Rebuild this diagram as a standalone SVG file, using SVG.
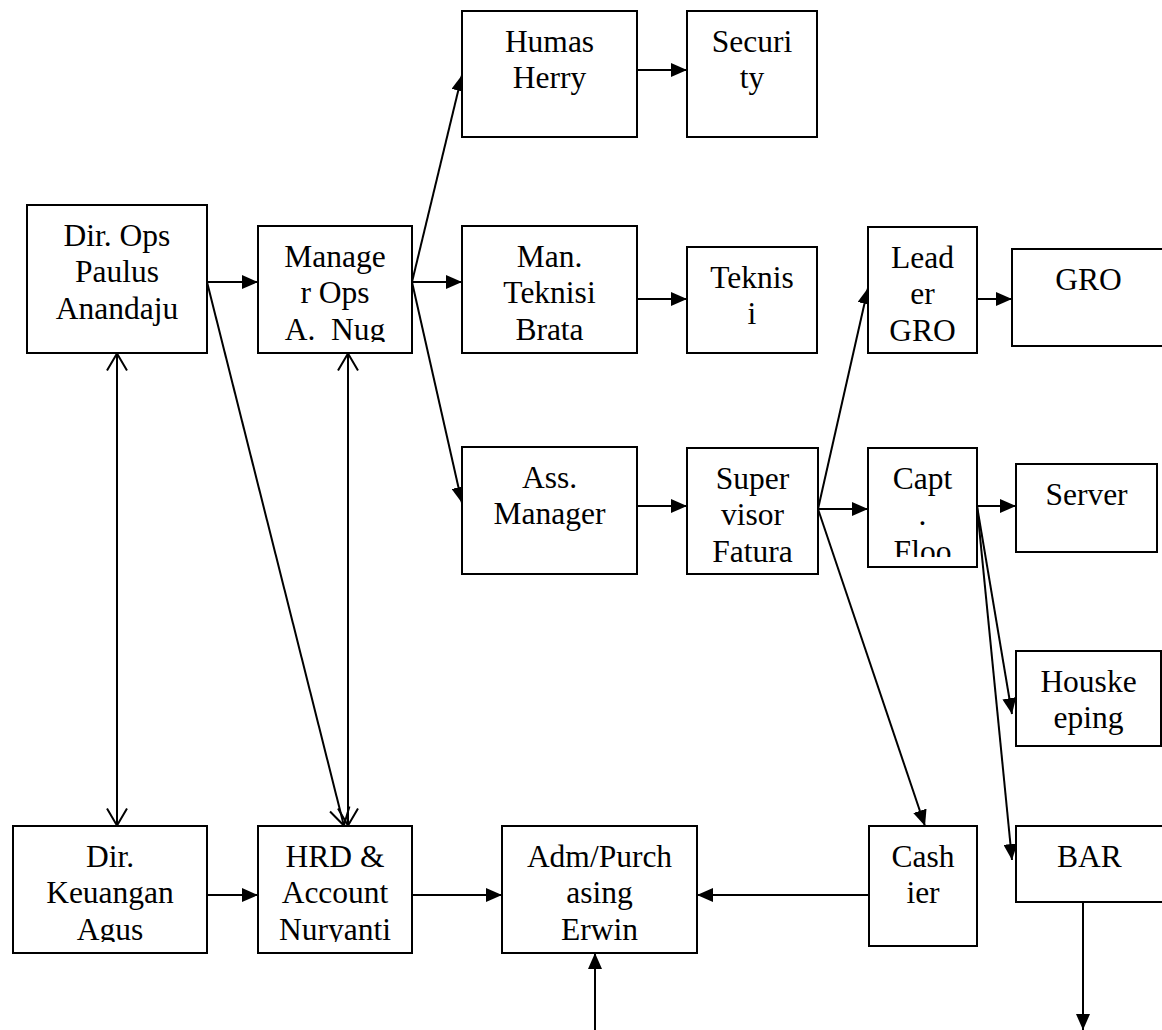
<svg xmlns="http://www.w3.org/2000/svg" width="1162" height="1030" viewBox="0 0 1162 1030">
<style>
.box{fill:#fff;stroke:#000;stroke-width:2}
.t{font-family:"Liberation Serif","Times New Roman",serif;font-size:31.5px;fill:#000;text-anchor:middle}
.c{stroke:#000;stroke-width:2;fill:none}
.f{marker-end:url(#ah)}
.d{marker-start:url(#oa);marker-end:url(#oa)}
.o{marker-end:url(#oa)}
</style>
<defs>
<marker id="ah" viewBox="0 0 16 14" refX="16" refY="7" markerWidth="16" markerHeight="14" orient="auto" markerUnits="userSpaceOnUse"><path d="M0,0 L16,7 L0,14 z" fill="#000"/></marker>
<marker id="oa" viewBox="0 0 20 24" refX="18.5" refY="12" markerWidth="20" markerHeight="24" orient="auto-start-reverse" markerUnits="userSpaceOnUse"><path d="M1,2 L18,12 L1,22" fill="none" stroke="#000" stroke-width="2"/></marker>
<clipPath id="cMgr"><rect x="258" y="226" width="154" height="116"/></clipPath>
<clipPath id="cCapt"><rect x="868" y="448" width="109" height="109"/></clipPath>
<clipPath id="cKeu"><rect x="13" y="826" width="194" height="116"/></clipPath>
<clipPath id="cHrd"><rect x="258" y="826" width="154" height="116"/></clipPath>
</defs>
<rect width="1162" height="1030" fill="#fff"/>

<g id="connectors">
<line class="c f" x1="207" y1="282" x2="258" y2="282"/>
<line class="c f" x1="412" y1="282" x2="462" y2="75"/>
<line class="c f" x1="412" y1="282" x2="462" y2="282"/>
<line class="c f" x1="412" y1="282" x2="462" y2="503"/>
<line class="c f" x1="637" y1="70" x2="687" y2="70"/>
<line class="c f" x1="637" y1="299" x2="687" y2="299"/>
<line class="c f" x1="637" y1="506" x2="687" y2="506"/>
<line class="c f" x1="818" y1="509" x2="868" y2="288"/>
<line class="c f" x1="818" y1="509" x2="868" y2="509"/>
<line class="c f" x1="818" y1="509" x2="925" y2="826"/>
<line class="c f" x1="977" y1="299" x2="1012" y2="299"/>
<line class="c f" x1="977" y1="506" x2="1016" y2="506"/>
<line class="c f" x1="977" y1="506" x2="1012" y2="714"/>
<line class="c f" x1="977" y1="506" x2="1012" y2="860"/>
<line class="c f" x1="1083" y1="902" x2="1083" y2="1030"/>
<line class="c f" x1="869" y1="895" x2="697" y2="895"/>
<line class="c f" x1="412" y1="895" x2="502" y2="895"/>
<line class="c f" x1="207" y1="895" x2="258" y2="895"/>
<line class="c f" x1="595" y1="1030" x2="595" y2="953"/>
<line class="c d" x1="117" y1="353" x2="117" y2="826"/>
<line class="c d" x1="348" y1="353" x2="348" y2="826"/>
<line class="c o" x1="207" y1="282" x2="344" y2="826"/>
</g>

<g id="n_dirops"><rect class="box" x="27" y="205" width="180" height="148"/>
<text class="t"><tspan x="117" y="245.5">Dir. Ops</tspan><tspan x="117" y="282.3">Paulus</tspan><tspan x="117" y="319.1">Anandaju</tspan></text></g>

<g id="n_mgrops"><rect class="box" x="258" y="226" width="154" height="127"/>
<text class="t" clip-path="url(#cMgr)" xml:space="preserve"><tspan x="335" y="266.5">Manage</tspan><tspan x="335" y="303.3">r Ops</tspan><tspan x="335" y="340.1">A.  Nug</tspan></text></g>

<g id="n_humas"><rect class="box" x="462" y="11" width="175" height="126"/>
<text class="t"><tspan x="549.5" y="51.5">Humas</tspan><tspan x="549.5" y="88.3">Herry</tspan></text></g>

<g id="n_security"><rect class="box" x="687" y="11" width="130" height="126"/>
<text class="t"><tspan x="752" y="51.5">Securi</tspan><tspan x="752" y="88.3">ty</tspan></text></g>

<g id="n_mantek"><rect class="box" x="462" y="226" width="175" height="127"/>
<text class="t"><tspan x="549.5" y="266.5">Man.</tspan><tspan x="549.5" y="303.3">Teknisi</tspan><tspan x="549.5" y="340.1">Brata</tspan></text></g>

<g id="n_teknisi"><rect class="box" x="687" y="247" width="130" height="106"/>
<text class="t"><tspan x="752" y="287.5">Teknis</tspan><tspan x="752" y="324.3">i</tspan></text></g>

<g id="n_leader"><rect class="box" x="868" y="227" width="109" height="126"/>
<text class="t"><tspan x="922.5" y="267.5">Lead</tspan><tspan x="922.5" y="304.3">er</tspan><tspan x="922.5" y="341.1">GRO</tspan></text></g>

<g id="n_gro"><rect class="box" x="1012" y="249" width="153" height="97"/>
<text class="t"><tspan x="1088.5" y="289.5">GRO</tspan></text></g>

<g id="n_ass"><rect class="box" x="462" y="447" width="175" height="127"/>
<text class="t"><tspan x="549.5" y="487.5">Ass.</tspan><tspan x="549.5" y="524.3">Manager</tspan></text></g>

<g id="n_super"><rect class="box" x="687" y="448" width="131" height="126"/>
<text class="t"><tspan x="752.5" y="488.5">Super</tspan><tspan x="752.5" y="525.3">visor</tspan><tspan x="752.5" y="562.1">Fatura</tspan></text></g>

<g id="n_capt"><rect class="box" x="868" y="448" width="109" height="119"/>
<text class="t" clip-path="url(#cCapt)"><tspan x="922.5" y="488.5">Capt</tspan><tspan x="922.5" y="525.3">.</tspan><tspan x="922.5" y="562.1">Floo</tspan></text></g>

<g id="n_server"><rect class="box" x="1016" y="464" width="141" height="88"/>
<text class="t"><tspan x="1086.5" y="504.5">Server</tspan></text></g>

<g id="n_house"><rect class="box" x="1016" y="651" width="145" height="95"/>
<text class="t"><tspan x="1088.5" y="691.5">Houske</tspan><tspan x="1088.5" y="728.3">eping</tspan></text></g>

<g id="n_bar"><rect class="box" x="1016" y="826" width="147" height="76"/>
<text class="t"><tspan x="1089.5" y="866.5">BAR</tspan></text></g>

<g id="n_dirkeu"><rect class="box" x="13" y="826" width="194" height="127"/>
<text class="t" clip-path="url(#cKeu)"><tspan x="110" y="866.5">Dir.</tspan><tspan x="110" y="903.3">Keuangan</tspan><tspan x="110" y="940.1">Agus</tspan></text></g>

<g id="n_hrd"><rect class="box" x="258" y="826" width="154" height="127"/>
<text class="t" clip-path="url(#cHrd)"><tspan x="335" y="866.5">HRD &amp;</tspan><tspan x="335" y="903.3">Account</tspan><tspan x="335" y="940.1">Nuryanti</tspan></text></g>

<g id="n_adm"><rect class="box" x="502" y="826" width="195" height="127"/>
<text class="t"><tspan x="599.5" y="866.5">Adm/Purch</tspan><tspan x="599.5" y="903.3">asing</tspan><tspan x="599.5" y="940.1">Erwin</tspan></text></g>

<g id="n_cashier"><rect class="box" x="869" y="826" width="108" height="120"/>
<text class="t"><tspan x="923" y="866.5">Cash</tspan><tspan x="923" y="903.3">ier</tspan></text></g>
</svg>
